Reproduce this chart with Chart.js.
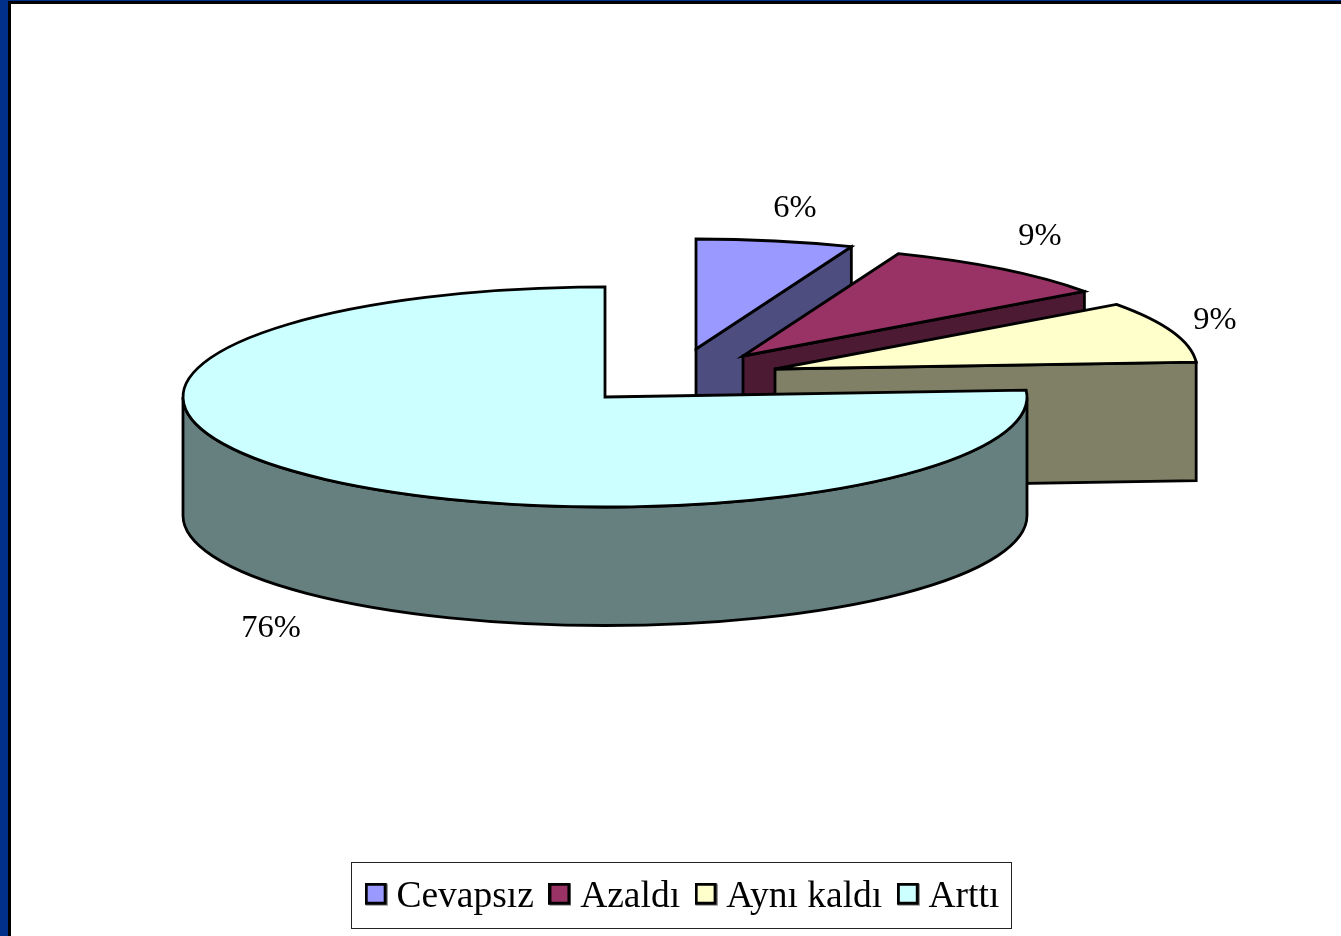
<!DOCTYPE html>
<html><head><meta charset="utf-8">
<style>
html,body{margin:0;padding:0;width:1341px;height:936px;overflow:hidden;background:#00308a}
#edge{position:absolute;left:8px;top:1px;width:1333px;height:935px;background:#000}
#wrap{position:absolute;left:11px;top:4px;width:1330px;height:950px;background:#fff}
</style>
<script src="https://cdn.jsdelivr.net/npm/chart.js@4"></script>
</head><body>
<div id="edge"></div>
<div id="wrap"><canvas id="c" width="1330" height="950"></canvas></div>
<script>
const categories = ["Cevapsız", "Azaldı", "Aynı kaldı", "Arttı"];
const values = [6, 9, 9, 76];
const topColors = ["#9999FF", "#993366", "#FFFFCC", "#CCFFFF"];
const sideColors = ["#4D4D80", "#4D1A33", "#808066", "#668080"];

// drawing style of the tilted pie (page pixels)
const OX = 11, OY = 4;
const apexes = [[696,349],[743,356],[775,369],[605,397]];
const labelAnchors = [[795,208],[1040,236],[1215,320],[271,628]];
const TILT = 110/422, DEPTH = 118.5, LINE = 2.8;

function swatch(color){
  const s = document.createElement('canvas'); s.width = 23; s.height = 29;
  const g = s.getContext('2d');
  g.fillStyle = '#999'; g.fillRect(1,1,22,22);
  g.fillStyle = '#000'; g.fillRect(0,0,22,22);
  g.fillStyle = color; g.fillRect(3,3,16,16);
  return s;
}

const tiltedPie = {
  id: 'tiltedPie',
  beforeDatasetsDraw(chart){
    const ctx = chart.ctx, arcs = chart.getDatasetMeta(0).data;
    ctx.save();
    ctx.translate(-OX,-OY);
    ctx.lineWidth = LINE; ctx.strokeStyle = '#000'; ctx.lineJoin = 'miter';
    arcs.forEach((el,i)=>{
      const [cx,cy] = apexes[i];
      const a = el.startAngle, b = el.endAngle, r = el.outerRadius, ry = r*TILT;
      ctx.fillStyle = sideColors[i];
      // outer wall, front half only
      const wa = Math.max(a,0), wb = Math.min(b,Math.PI);
      if (wb > wa){
        ctx.beginPath();
        ctx.ellipse(cx,cy,r,ry,0,wa,wb);
        ctx.ellipse(cx,cy+DEPTH,r,ry,0,wb,wa,true);
        ctx.closePath(); ctx.fill(); ctx.stroke();
      }
      // cut face at the end of the slice
      if (Math.cos(b) > 1e-6){
        const ex = cx+r*Math.cos(b), ey = cy+ry*Math.sin(b);
        ctx.beginPath();
        ctx.moveTo(cx,cy); ctx.lineTo(ex,ey);
        ctx.lineTo(ex,ey+DEPTH); ctx.lineTo(cx,cy+DEPTH);
        ctx.closePath(); ctx.fill(); ctx.stroke();
      }
      // top face
      ctx.fillStyle = topColors[i];
      ctx.beginPath();
      ctx.moveTo(cx,cy);
      ctx.ellipse(cx,cy,r,ry,0,a,b);
      ctx.closePath(); ctx.fill(); ctx.stroke();
    });
    // percentage labels
    ctx.fillStyle = '#000';
    ctx.font = '32.5px "Liberation Serif"';
    ctx.textAlign = 'center'; ctx.textBaseline = 'middle';
    values.forEach((v,i)=>ctx.fillText(v+'%',labelAnchors[i][0],labelAnchors[i][1]));
    ctx.restore();
    return false;
  },
  afterDraw(chart){
    const ctx = chart.ctx, boxes = chart.legend.legendHitBoxes;
    if (!boxes.length) return;
    const first = boxes[0], last = boxes[boxes.length-1];
    ctx.save();
    ctx.strokeStyle = '#222'; ctx.lineWidth = 1;
    const x0 = Math.round(first.left-24)+.5, x1 = Math.round(last.left+last.width+12)+.5;
    const y0 = Math.round(first.top+first.height/2-35)+.5, y1 = y0+66;
    ctx.strokeRect(x0,y0,x1-x0,y1-y0);
    ctx.restore();
  }
};

new Chart(document.getElementById('c'),{
  type:'pie',
  data:{labels:categories,datasets:[{data:values,backgroundColor:topColors,borderColor:'#000',borderWidth:2}]},
  options:{
    responsive:false, animation:false, radius:422,
    layout:{padding:{left:22,bottom:28}},
    plugins:{
      tooltip:{enabled:false},
      legend:{
        position:'bottom',
        labels:{
          usePointStyle:true, pointStyleWidth:3, padding:24.5, color:'#000',
          font:{family:'"Liberation Serif"',size:37.5},
          generateLabels(chart){
            return Chart.overrides.doughnut.plugins.legend.labels.generateLabels(chart)
              .map((l,i)=>Object.assign(l,{pointStyle:swatch(topColors[i])}));
          }
        }
      }
    }
  },
  plugins:[tiltedPie]
});
</script>
</body></html>
